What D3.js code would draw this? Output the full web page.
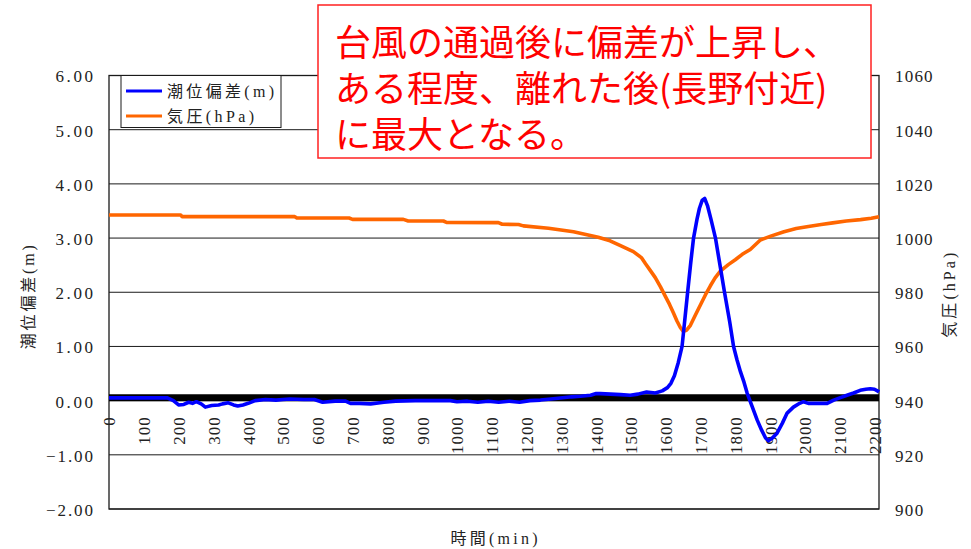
<!DOCTYPE html>
<html><head><meta charset="utf-8">
<script src="https://cdn.jsdelivr.net/npm/d3@7/dist/d3.min.js"></script>
<style>
html,body{margin:0;padding:0;background:#fff;}
svg{display:block;}
</style></head>
<body>
<svg id="chart" width="971" height="549"></svg>
<script>
// ---- data ----
const surgeTime = [0,100,168,185,200,215,229,240,251,265,277,295,315,326,343,358,370,385,400,420,450,480,500,520,560,590,614,650,680,694,720,752,790,824,880,940,981,1000,1030,1060,1090,1120,1150,1180,1210,1240,1270,1297,1330,1355,1384,1400,1412,1441,1470,1498,1520,1545,1570,1590,1605,1615,1625,1636,1647,1655,1663,1672,1680,1690,1697,1705,1712,1720,1730,1743,1756,1769,1784,1795,1805,1815,1825,1834,1848,1863,1876,1887,1895,1905,1920,1935,1949,1967,1985,1996,2010,2040,2064,2083,2100,2121,2140,2159,2175,2188,2200,2211,2213];
const surgeValue = [0.05,0.05,0.05,0.0,-0.08,-0.07,-0.03,-0.05,-0.02,-0.06,-0.12,-0.09,-0.08,-0.06,-0.04,-0.08,-0.10,-0.08,-0.05,0.0,0.02,0.01,0.02,0.03,0.02,0.02,-0.03,-0.01,-0.01,-0.05,-0.05,-0.06,-0.03,-0.01,0.0,0.0,0.0,-0.02,-0.01,-0.03,-0.01,-0.03,-0.01,-0.03,0.0,0.01,0.03,0.05,0.07,0.08,0.10,0.13,0.13,0.12,0.11,0.10,0.12,0.16,0.14,0.18,0.24,0.32,0.46,0.70,1.0,1.5,2.0,2.55,3.0,3.35,3.55,3.70,3.73,3.60,3.35,3.0,2.5,2.0,1.45,1.0,0.75,0.53,0.34,0.14,-0.10,-0.36,-0.55,-0.69,-0.74,-0.70,-0.60,-0.42,-0.23,-0.12,-0.05,-0.02,-0.05,-0.05,-0.05,0.01,0.05,0.10,0.14,0.19,0.21,0.22,0.21,0.17,0.16];
const pressTime = [0,206,210,534,540,690,700,846,860,961,970,1119,1130,1177,1191,1263,1335,1406,1440,1470,1507,1530,1542,1556,1570,1585,1599,1611,1622,1632,1642,1650,1660,1671,1685,1700,1714,1728,1742,1757,1780,1800,1820,1843,1872,1904,1940,1975,2010,2047,2080,2119,2160,2191,2213];
const pressValue = [1008.5,1008.5,1007.9,1007.9,1007.4,1007.4,1006.9,1006.9,1006.3,1006.3,1005.8,1005.7,1005.1,1005.0,1004.5,1003.6,1002.3,1000.3,999.0,997.2,995.0,992.8,990.5,988.0,985.4,982.0,978.5,975.5,972.4,969.5,967.0,965.6,966.0,967.8,971.5,975.4,979.0,982.3,985.3,987.8,990.2,992.0,994.0,995.8,999.3,1000.8,1002.3,1003.5,1004.3,1005.0,1005.6,1006.3,1006.8,1007.3,1007.9];
const leftTicks = [-2,-1,0,1,2,3,4,5,6];
const rightTicks = [900,920,940,960,980,1000,1020,1040,1060];
const timeTicks = [0,100,200,300,400,500,600,700,800,900,1000,1100,1200,1300,1400,1500,1600,1700,1800,1900,2000,2100,2200];
const seriesNames = ["潮位偏差(m)","気圧(hPa)"];
const seriesColors = ["#0000ff","#ff6600"];
const leftTitle = "潮位偏差(m)";
const rightTitle = "気圧(hPa)";
const bottomTitle = "時間(min)";
const noteLines = ["台風の通過後に偏差が上昇し、","ある程度、離れた後(長野付近)","に最大となる。"];

// ---- layout ----
const svg = d3.select("#chart");
const L = 109, R = 879, T = 75.5, B = 509;
const numFont = "'Liberation Serif', serif";
const jpFont = "'Liberation Serif', 'Noto Sans CJK JP', serif";
const charW = 9.4;

const x = d3.scaleLinear().domain([0, 2213]).range([L, R]);
const yL = d3.scaleLinear().domain([-2, 6]).range([B, T]);
const yR = d3.scaleLinear().domain([900, 1060]).range([B, T]);

// gridlines
svg.append("g").selectAll("line").data(leftTicks).join("line")
  .attr("x1", L).attr("x2", R)
  .attr("y1", d => yL(d)).attr("y2", d => yL(d))
  .attr("stroke", "#1a1a1a").attr("stroke-width", 1);

// plot frame
svg.append("rect").attr("x", L).attr("y", T).attr("width", R - L).attr("height", B - T)
  .attr("fill", "none").attr("stroke", "#1a1a1a").attr("stroke-width", 1.3);

// thick category axis at 0
svg.append("line").attr("x1", L).attr("x2", R)
  .attr("y1", yL(0) - 3).attr("y2", yL(0) - 3)
  .attr("stroke", "#000").attr("stroke-width", 7);

// left axis
const gL = svg.append("g").attr("transform", `translate(${L},1)`)
  .call(d3.axisLeft(yL).tickValues(leftTicks).tickFormat(d3.format(".2f")).tickSize(0).tickPadding(16));
gL.select(".domain").remove();
gL.selectAll("text").attr("font-family", numFont).attr("font-size", 17).attr("fill", "#222")
  .attr("textLength", function(){ return this.textContent.length * charW; }).attr("lengthAdjust", "spacing");

// right axis
const gR = svg.append("g").attr("transform", `translate(${R},1)`)
  .call(d3.axisRight(yR).tickValues(rightTicks).tickFormat(d3.format("d")).tickSize(0).tickPadding(16));
gR.select(".domain").remove();
gR.selectAll("text").attr("font-family", numFont).attr("font-size", 17).attr("fill", "#222")
  .attr("textLength", function(){ return this.textContent.length * charW; }).attr("lengthAdjust", "spacing");

// bottom category labels (rotated)
const gB = svg.append("g").attr("transform", `translate(0,${yL(0)})`)
  .call(d3.axisBottom(x).tickValues(timeTicks).tickFormat(d3.format("d")).tickSize(0));
gB.select(".domain").remove();
gB.selectAll("text").attr("font-family", numFont).attr("font-size", 17).attr("fill", "#222")
  .attr("transform", "rotate(-90)").attr("text-anchor", "end")
  .attr("x", -16.5).attr("y", 0).attr("dy", "0.35em")
  .attr("textLength", function(){ return this.textContent.length * 9.2; }).attr("lengthAdjust", "spacing");

// series
const linePress = d3.line().x((d, i) => x(pressTime[i])).y(d => yR(d));
const lineSurge = d3.line().x((d, i) => x(surgeTime[i])).y(d => yL(d));
svg.append("path").attr("d", linePress(pressValue)).attr("fill", "none")
  .attr("stroke", seriesColors[1]).attr("stroke-width", 3.6).attr("stroke-linejoin", "round");
svg.append("path").attr("d", lineSurge(surgeValue)).attr("fill", "none")
  .attr("stroke", seriesColors[0]).attr("stroke-width", 3.6).attr("stroke-linejoin", "round");

// legend
const lg = svg.append("g");
lg.append("rect").attr("x", 121).attr("y", T).attr("width", 160).attr("height", 52)
  .attr("fill", "#fff").attr("stroke", "#1a1a1a").attr("stroke-width", 1);
const legendLens = [107, 87];
seriesNames.forEach((n, i) => {
  const yy = 91 + i * 25;
  lg.append("line").attr("x1", 126).attr("x2", 162).attr("y1", yy).attr("y2", yy)
    .attr("stroke", seriesColors[i]).attr("stroke-width", 3);
  lg.append("text").attr("x", 167).attr("y", yy).attr("dy", "0.36em")
    .attr("font-family", jpFont).attr("font-size", 16).attr("fill", "#222")
    .attr("textLength", legendLens[i]).attr("lengthAdjust", "spacing").text(n);
});

// axis titles
svg.append("text").attr("transform", `translate(28,${(T + B) / 2 + 5}) rotate(-90)`)
  .attr("text-anchor", "middle").attr("dy", "0.36em")
  .attr("font-family", jpFont).attr("font-size", 16).attr("fill", "#222")
  .attr("textLength", 104).attr("lengthAdjust", "spacing").text(leftTitle);
svg.append("text").attr("transform", `translate(949,${(T + B) / 2 + 3}) rotate(-90)`)
  .attr("text-anchor", "middle").attr("dy", "0.36em")
  .attr("font-family", jpFont).attr("font-size", 16).attr("fill", "#222")
  .attr("textLength", 85).attr("lengthAdjust", "spacing").text(rightTitle);
svg.append("text").attr("x", (L + R) / 2).attr("y", 538).attr("dy", "0.36em")
  .attr("text-anchor", "middle")
  .attr("font-family", jpFont).attr("font-size", 16).attr("fill", "#222")
  .attr("textLength", 87).attr("lengthAdjust", "spacing").text(bottomTitle);

// annotation box (one text block, three lines)
const ann = svg.append("g");
ann.append("rect").attr("x", 318).attr("y", 5).attr("width", 553).attr("height", 153)
  .attr("fill", "#fff").attr("stroke", "#ff2020").attr("stroke-width", 1.5);
const noteText = ann.append("text").attr("x", 335).attr("y", 43)
  .attr("font-family", "'Noto Sans CJK JP', sans-serif").attr("font-size", 36)
  .attr("fill", "#ff0000");
noteLines.forEach((t, i) => {
  noteText.append("tspan").attr("x", 335).attr("y", 43 + i * 46).attr("dy", "0.36em").text(t);
});
</script>
</body></html>
